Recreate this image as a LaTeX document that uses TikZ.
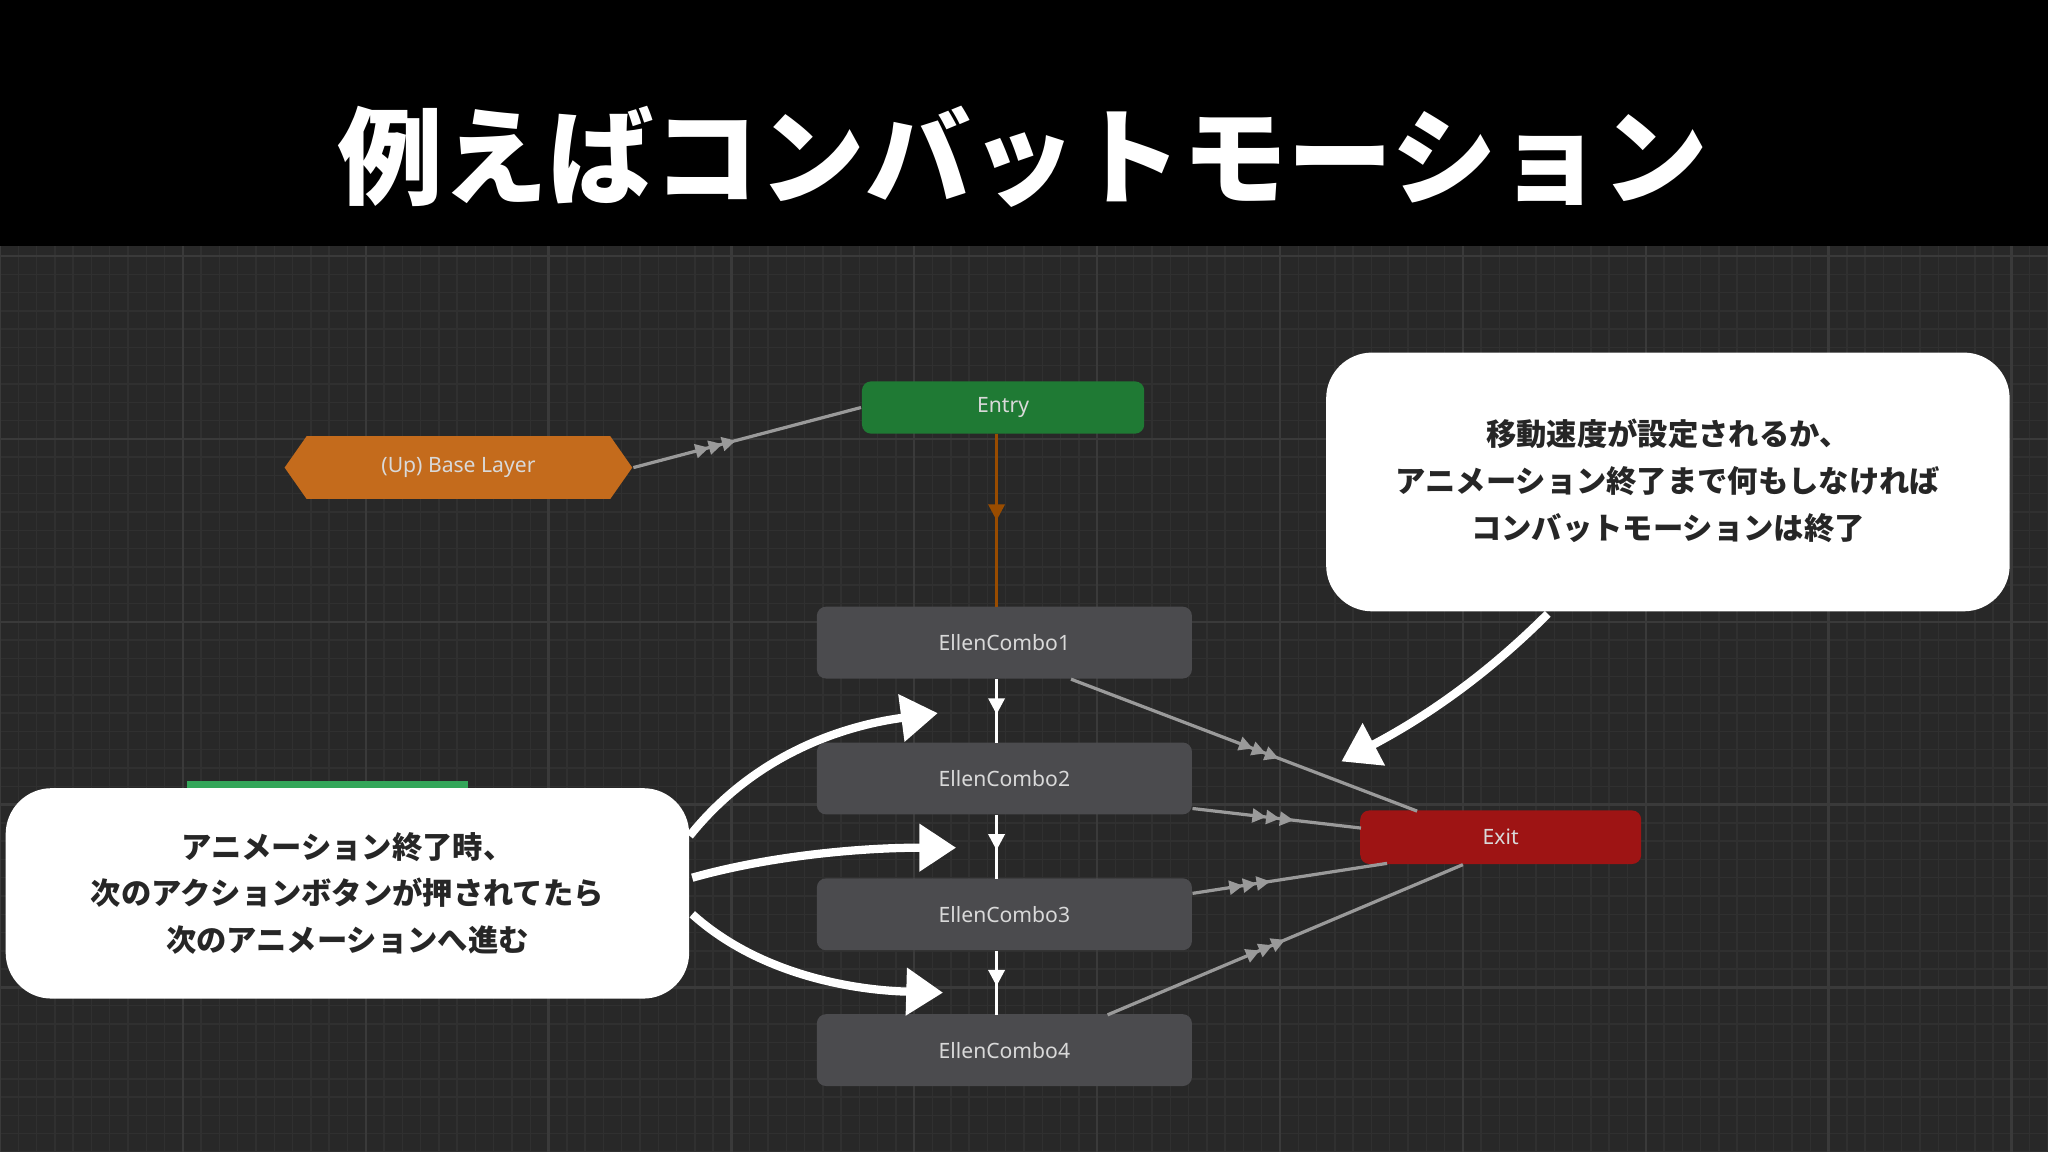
\documentclass[tikz,border=0pt]{standalone}
\usepackage{fontspec}
\setmainfont{Noto Sans}
\newfontfamily\cjk{Noto Sans CJK JP}
\usetikzlibrary{arrows.meta,decorations.markings,shapes.geometric,shapes.symbols}
\definecolor{bg}{HTML}{282828}
\definecolor{gridmin}{HTML}{303030}
\definecolor{gridmaj}{HTML}{3a3a3a}
\definecolor{statec}{HTML}{4b4b4e}
\definecolor{entryc}{HTML}{1f7a34}
\definecolor{exitc}{HTML}{9e1414}
\definecolor{basec}{HTML}{c46b1c}
\definecolor{linec}{HTML}{9a9a9a}
\tikzset{
 state/.style={draw=none,fill=statec,rounded corners=2pt,minimum width=2.87cm,minimum height=0.55cm,text=white!85!black,font=\fontsize{4.6}{5}\selectfont,inner sep=0pt},
 triple/.style={postaction={decorate},decoration={markings,mark=at position #1 with {\arrow{Triangle[length=3pt,width=3pt] Triangle[length=3pt,width=3pt] Triangle[length=3pt,width=3pt]}}}},
 single/.style={postaction={decorate},decoration={markings,mark=at position #1 with {\arrow{Triangle[length=3.5pt,width=3.5pt]}}}},
 trans/.style={draw=linec,line width=0.7pt},
 callout/.style={fill=white,rounded corners=10pt,draw=none,inner sep=0pt},
 ctext/.style={font=\cjk\bfseries\fontsize{6.6}{10.2}\selectfont,align=center,text=black!85},
 bigarrow/.style={draw=white,line width=1.8pt,-{Triangle[length=8pt,width=10pt]}},
}
\begin{document}
\begin{tikzpicture}[x=0.01cm,y=-0.01cm]
\useasboundingbox (0,0) rectangle (1568,882);
\fill[bg] (0,188) rectangle (1568,882);
\foreach \x in {0,14,...,1568} \draw[gridmin,line width=0.3pt] (\x,188)--(\x,882);
\foreach \y in {196,210,...,882} \draw[gridmin,line width=0.3pt] (0,\y)--(1568,\y);
\foreach \x in {0,140,...,1568} \draw[gridmaj,line width=0.5pt] (\x,188)--(\x,882);
\foreach \y in {196,336,...,882} \draw[gridmaj,line width=0.5pt] (0,\y)--(1568,\y);
\fill[black] (0,0) rectangle (1568,188);
\node[text=white,font=\cjk\bfseries\fontsize{23}{26}\selectfont] (title) at (783,120) {例えばコンバットモーション};

\node[fill=entryc,minimum width=2.16cm,minimum height=0.4cm,inner sep=0pt,rounded corners=2pt,text=white!85!black,font=\fontsize{4.6}{5}\selectfont] (entry) at (768,312) {Entry};
\node[fill=basec,signal,signal to=west and east,signal pointer angle=110,minimum width=2.66cm,minimum height=0.48cm,inner sep=0pt,text=white!85!black,font=\fontsize{4.6}{5}\selectfont] (base) at (351,358) {(Up) Base Layer};
\node[fill=exitc,minimum width=2.15cm,minimum height=0.41cm,inner sep=0pt,rounded corners=2pt,text=white!85!black,font=\fontsize{4.6}{5}\selectfont] (exit) at (1149,641) {Exit};
\node[state] (c1) at (769,492) {EllenCombo1};
\node[state] (c2) at (769,596) {EllenCombo2};
\node[state] (c3) at (769,700) {EllenCombo3};
\node[state] (c4) at (769,804) {EllenCombo4};
\fill[fill=teal!50!green!60!gray] (143,598) rectangle (358,610);

\draw[trans,triple=0.45] (base.east) -- (entry.west);
\draw[draw=orange!60!black,line width=0.7pt,single=0.5] (763,332) -- (763,465);
\draw[white,line width=0.7pt,single=0.55] (763,520) -- (763,569);
\draw[white,line width=0.7pt,single=0.55] (763,624) -- (763,673);
\draw[white,line width=0.7pt,single=0.55] (763,728) -- (763,777);
\draw[trans,triple=0.6] (820,520) -- (1085,621);
\draw[trans,triple=0.6] (913,619) -- (1042,634);
\draw[trans,triple=0.4] (913,684) -- (1062,661);
\draw[trans,triple=0.5] (848,777) -- (1120,662);

\node[callout,minimum width=5.23cm,minimum height=1.61cm] (lc) at (266,684) {};
\node[ctext] (lt) at (266,684) {アニメーション終了時、\\次のアクションボタンが押されてたら\\次のアニメーションへ進む};
\node[callout,minimum width=5.23cm,minimum height=1.98cm] (rc) at (1277,369) {};
\node[ctext] (rt) at (1277,368) {移動速度が設定されるか、\\アニメーション終了まで何もしなければ\\コンバットモーションは終了};

\coordinate (a1s) at (528,640); \coordinate (a1e) at (718,546);
\coordinate (a2s) at (530,672); \coordinate (a2e) at (732,649);
\coordinate (a3s) at (530,700); \coordinate (a3e) at (722,760);
\coordinate (a4s) at (1185,470); \coordinate (a4e) at (1027,583);
\draw[bigarrow] (a1s) .. controls (580,575) and (650,555) .. (a1e);
\draw[bigarrow] (a2s) .. controls (590,655) and (660,649) .. (a2e);
\draw[bigarrow] (a3s) .. controls (580,745) and (650,758) .. (a3e);
\draw[bigarrow] (a4s) .. controls (1130,525) and (1080,555) .. (a4e);
\end{tikzpicture}
\end{document}
